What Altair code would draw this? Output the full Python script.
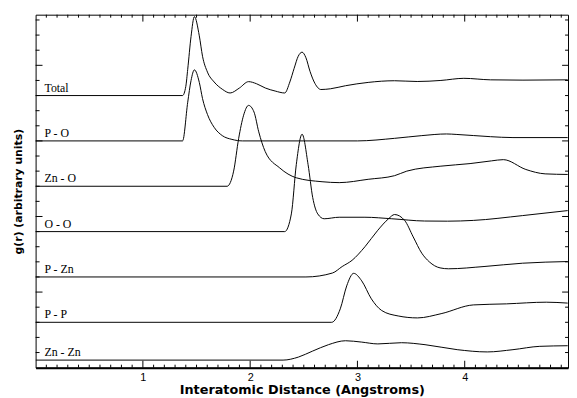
import altair as alt
import pandas as pd

series_names = ["Total", "P - O", "Zn - O", "O - O", "P - Zn", "P - P", "Zn - Zn"]
offsets = [18, 15, 12, 9, 6, 3, 0.5]

total_r = [0, 1.37, 1.40, 1.418, 1.449, 1.48, 1.526, 1.556, 1.602, 1.664, 1.74, 1.813, 1.90, 1.985,
           2.06, 2.141, 2.233, 2.322, 2.37, 2.41, 2.448, 2.484, 2.52, 2.558, 2.604, 2.66, 2.75,
           2.889, 3.10, 3.346, 3.557, 3.778, 3.992, 4.24, 4.543, 4.96]
total_g = [0, 0, 0.6, 1.74, 3.91, 5.22, 3.95, 2.6, 1.55, 0.9, 0.42, 0.17, 0.5, 0.92,
           0.78, 0.5, 0.3, 0.17, 0.9, 1.8, 2.6, 2.87, 2.5, 1.6, 0.8, 0.4, 0.45,
           0.65, 0.87, 0.98, 0.93, 1.0, 1.14, 1.04, 1.02, 1.04]

po_r = [0, 1.37, 1.418, 1.449, 1.48, 1.526, 1.556, 1.602, 1.664, 1.74, 1.83, 1.93, 3.0, 3.346,
        3.6, 3.83, 3.92, 4.24, 4.45, 4.96]
po_g = [0, 0, 2.56, 4.0, 4.7, 3.87, 2.8, 1.75, 0.9, 0.35, 0.1, 0.0, 0.0, 0.17,
        0.35, 0.46, 0.43, 0.28, 0.22, 0.22]

zno_r = [0, 1.785, 1.846, 1.893, 1.939, 1.985, 2.036, 2.08, 2.14, 2.276, 2.43, 2.67, 2.83, 3.10,
         3.346, 3.46, 3.778, 4.05, 4.25, 4.36, 4.57, 4.75, 4.96]
zno_g = [0, 0, 1.0, 3.17, 4.7, 5.35, 4.91, 3.6, 2.3, 1.21, 0.56, 0.3, 0.24, 0.46,
         0.7, 1.0, 1.33, 1.5, 1.68, 1.76, 1.11, 0.82, 0.78]

oo_r = [0, 2.322, 2.384, 2.43, 2.484, 2.54, 2.583, 2.63, 2.69, 2.83, 3.07, 3.32, 3.626, 3.84,
        4.08, 4.54, 4.96]
oo_g = [0, 0, 1.17, 4.43, 6.44, 4.43, 2.26, 1.17, 0.85, 0.95, 0.95, 0.85, 0.7, 0.69,
        0.74, 1.06, 1.39]

pzn_r = [0, 2.52, 2.767, 2.858, 2.95, 3.07, 3.19, 3.29, 3.346, 3.44, 3.52, 3.60, 3.67, 3.77,
         3.85, 4.18, 4.54, 4.96]
pzn_g = [0, 0, 0.26, 0.69, 1.1, 2.0, 3.09, 3.85, 4.13, 3.74, 2.65, 1.57, 1.0, 0.6,
         0.54, 0.69, 0.91, 1.02]

pp_r = [0, 2.76, 2.84, 2.90, 2.965, 3.04, 3.13, 3.226, 3.38, 3.56, 3.78, 4.08, 4.39, 4.76, 4.96]
pp_g = [0, 0, 0.89, 2.41, 3.24, 2.74, 1.55, 0.78, 0.42, 0.29, 0.57, 1.15, 1.22, 1.33, 1.27]

znzn_r = [0, 2.307, 2.45, 2.58, 2.73, 2.889, 3.04, 3.19, 3.41, 3.63, 3.93, 4.21, 4.45, 4.70, 4.96]
znzn_g = [0, 0, 0.2, 0.59, 1.02, 1.28, 1.19, 1.07, 1.15, 1.02, 0.69, 0.54, 0.69, 0.91, 0.95]

curves = [(total_r, total_g), (po_r, po_g), (zno_r, zno_g), (oo_r, oo_g),
          (pzn_r, pzn_g), (pp_r, pp_g), (znzn_r, znzn_g)]

x_major = [1, 2, 3, 4]
x_minor = [round(v / 10, 1) for v in range(1, 50) if v % 10 != 0]
y_major = [5, 10, 15, 20]
y_minor = [v for v in range(1, 24) if v % 5 != 0]

rows = []
for name, off, (rs, gs) in zip(series_names, offsets, curves):
    for r, g in zip(rs, gs):
        rows.append({"series": name, "r": r, "y": off + g})
df = pd.DataFrame(rows)
labels_df = pd.DataFrame({"series": series_names, "y": offsets})

W, H = 540, 358
xs = alt.Scale(domain=[0, 4.963], nice=False, zero=False)
ys = alt.Scale(domain=[0, 23.35], nice=False, zero=False)

x_axis = alt.Axis(values=x_major, ticks=False, domain=True, domainWidth=2,
                  domainColor="black", grid=False, labelFont="Liberation Sans",
                  labelFontSize=11, labelColor="black", labelPadding=4,
                  title="Interatomic Distance (Angstroms)",
                  titleFont="DejaVu Sans", titleFontSize=13,
                  titleFontWeight="bold", titleColor="black", titlePadding=1)
y_axis = alt.Axis(labels=False, ticks=False, domain=False, grid=False,
                  title="g(r) (arbitrary units)", titleFont="DejaVu Sans",
                  titleFontSize=11, titleFontWeight="bold", titleColor="black",
                  titlePadding=12)

def X(field="r"):
    return alt.X(f"{field}:Q", scale=xs, axis=x_axis, title="Interatomic Distance (Angstroms)")

def Y(field="y"):
    return alt.Y(f"{field}:Q", scale=ys, axis=y_axis, title="g(r) (arbitrary units)")

lines = alt.Chart(df).mark_line(color="black", strokeWidth=1, interpolate="monotone", clip=True).encode(
    x=X(), y=Y(), detail="series:N",
)

text = alt.Chart(labels_df).mark_text(align="left", baseline="alphabetic", dy=-4,
                                      font="Liberation Serif", fontSize=12, color="black").encode(
    x=alt.value(9), y=Y(), text="series:N")

def xticks(vals, length):
    d = pd.DataFrame({"r": vals})
    b = alt.Chart(d).mark_rule(color="black", strokeWidth=1).encode(
        x=X(), y=alt.value(H), y2=alt.value(H - length))
    t = alt.Chart(d).mark_rule(color="black", strokeWidth=1).encode(
        x=X(), y=alt.value(0), y2=alt.value(length))
    return [b, t]

def yticks(vals, llen, rlen):
    d = pd.DataFrame({"y": vals})
    l = alt.Chart(d).mark_rule(color="black", strokeWidth=1).encode(
        y=Y(), x=alt.value(0), x2=alt.value(llen))
    r = alt.Chart(d).mark_rule(color="black", strokeWidth=1).encode(
        y=Y(), x=alt.value(W), x2=alt.value(W - rlen))
    return [l, r]

layers = [lines, text] + xticks(x_minor, 3) + xticks(x_major, 7) + yticks(y_minor, 4, 3) + yticks(y_major, 7, 6)

chart = alt.layer(*layers).properties(
    width=W, height=H,
    autosize=alt.AutoSizeParams(type="none"),
    padding={"left": 28, "top": 4, "right": 1, "bottom": 28},
).configure_view(stroke="black", strokeWidth=1)

chart.save("out.html", embed_options={"renderer": "svg", "actions": False})
